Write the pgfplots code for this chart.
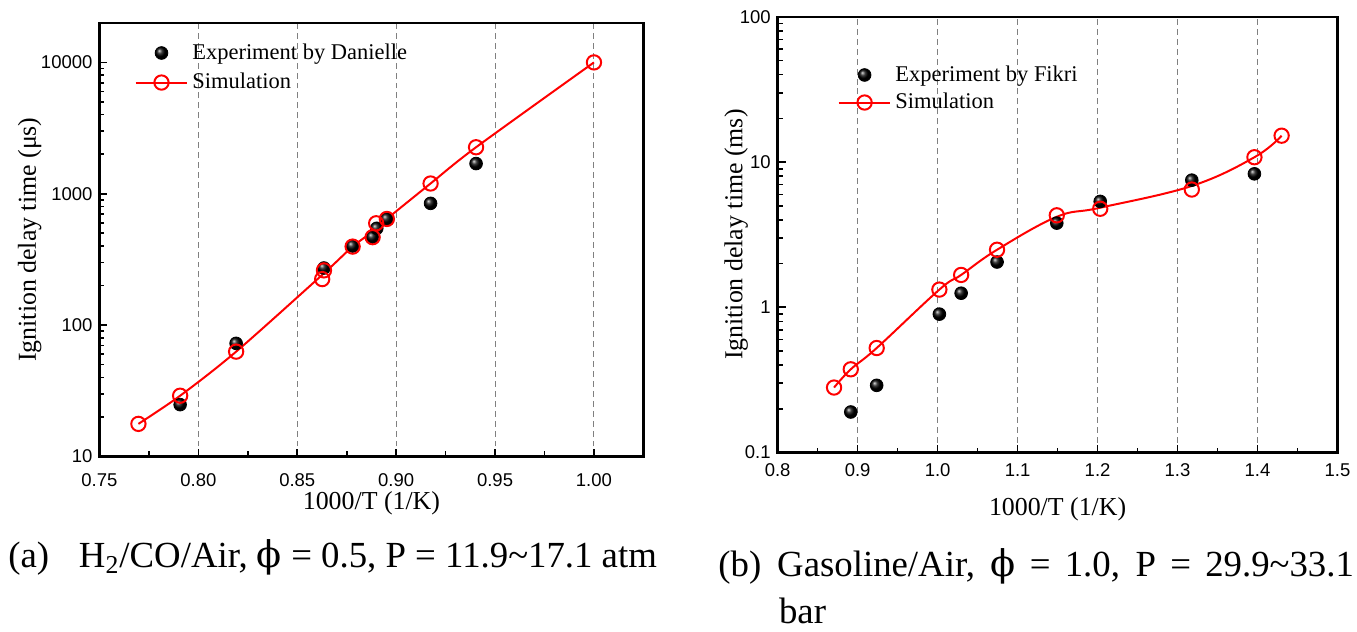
\documentclass[border=0pt]{standalone}
\usepackage{fontspec}
\setmainfont{Liberation Serif}
\newfontfamily\ticksf{Liberation Sans}
\newfontfamily\phifont{DejaVu Serif}
\usepackage{pgfplots}
\usepackage{pgfplotstable}
\pgfplotsset{compat=1.18}

% data
\pgfplotstableread{
x y
0.7908 24.8
0.8191 72.6
0.8635 272
0.8780 400
0.8881 467
0.8902 546
0.8953 643
0.9174 845
0.9404 1698
}\expA
\pgfplotstableread{
x y
0.7697 17.7
0.7908 29.0
0.8191 62.8
0.8626 224
0.8635 261
0.8780 396
0.8881 467
0.8899 596
0.8953 643
0.9174 1197
0.9404 2260
1.0000 10000
}\simA
\pgfplotstableread{
x y
0.7697 17.7
0.7908 29.0
0.8191 62.8
0.8631 245
0.8780 396
0.8900 540
0.8953 643
0.9174 1197
0.9404 2260
1.0000 10000
}\simAline
\pgfplotstableread{
x y
0.8914 0.190
0.9238 0.290
1.0022 0.897
1.0294 1.25
1.0743 2.05
1.1490 3.80
1.2033 5.36
1.3178 7.51
1.3961 8.30
}\expB
\pgfplotstableread{
x y
0.8705 0.280
0.8914 0.374
0.9238 0.524
1.0022 1.324
1.0294 1.67
1.0743 2.49
1.1490 4.30
1.2033 4.77
1.3178 6.47
1.3961 10.8
1.4301 15.2
}\simB
\pgfplotstableread{
x y
0.8705 0.280
0.8914 0.374
0.9238 0.524
1.0022 1.324
1.0294 1.67
1.0743 2.49
1.1490 4.20
1.2033 4.85
1.3178 6.85
1.3961 10.8
1.4301 15.2
}\simBline

\begin{document}
\begin{tikzpicture}
\path (0pt,0pt) rectangle (678.5pt,317.5pt);

\begin{axis}[
  scale only axis, ymode=log,
  at={(50pt,88pt)}, anchor=south west,
  width=273.5pt, height=218pt,
  xmin=0.75, xmax=1.025, ymin=10, ymax=20000,
  tick align=inside, xtick pos=bottom, ytick pos=left,
  axis line style={line width=1.2pt},
  major tick length=4pt, minor tick length=2.5pt,
  major tick style={black, line width=0.8pt},
  minor tick style={black, line width=0.8pt},
  xmajorgrids, grid style={densely dashed, gray, line width=0.5pt},
  minor x tick num=1,
  xtick={0.75,0.80,0.85,0.90,0.95,1.00},
  xticklabels={0.75,0.80,0.85,0.90,0.95,1.00},
  ytick={10,100,1000,10000},
  yticklabels={10,100,1000,10000},
  minor ytick={20,30,40,50,60,70,80,90,200,300,400,500,600,700,800,900,2000,3000,4000,5000,6000,7000,8000,9000},
  tick label style={font=\ticksf\fontsize{9.3}{10}\selectfont},
  xticklabel style={yshift=-5pt},
  label style={font=\fontsize{13}{15}\selectfont},
  xlabel={1000/T (1/K)},
  ylabel={Ignition delay time (μs)},
  xlabel style={at={(axis description cs:0.5,0)}, anchor=center, yshift=-23.5pt},
  ylabel style={at={(axis description cs:-0.128,0.5)}, anchor=center},
  legend cell align=left,
  legend style={draw=none, fill=none, inner sep=0pt,
    font=\fontsize{11.3}{13}\selectfont, row sep=1.5pt,
    at={(axis description cs:0.064,0.962)}, anchor=north west},
]
\addplot[only marks, mark=ball, mark size=3.2pt, mark options={ball color=black},
  legend image code/.code={\path[draw=none, fill=none] (0pt,0pt) -- (26pt,0pt);
    \shade[ball color=black] (13pt,0pt) circle (3.2pt);}] table {\expA};
\addlegendentry{Experiment by Danielle}
\addplot[red, line width=1pt, smooth, tension=0.5, no marks, forget plot] table {\simAline};
\addplot[only marks, mark=o, mark size=3.6pt, mark options={red, line width=1pt},
  legend image code/.code={\draw[red, line width=1pt] (0pt,0pt) -- (26pt,0pt);
    \draw[red, line width=1pt] (13pt,0pt) circle (3.6pt);}] table {\simA};
\addlegendentry{Simulation}
\end{axis}

\begin{axis}[
  scale only axis, ymode=log,
  at={(391pt,90pt)}, anchor=south west,
  width=281.5pt, height=219pt,
  xmin=0.8, xmax=1.5, ymin=0.1, ymax=100,
  tick align=inside, xtick pos=bottom, ytick pos=left,
  axis line style={line width=1.2pt},
  major tick length=4pt, minor tick length=2.5pt,
  major tick style={black, line width=0.8pt},
  minor tick style={black, line width=0.8pt},
  xmajorgrids, grid style={densely dashed, gray, line width=0.5pt},
  minor x tick num=1,
  xtick={0.8,0.9,1.0,1.1,1.2,1.3,1.4,1.5},
  xticklabels={0.8,0.9,1.0,1.1,1.2,1.3,1.4,1.5},
  ytick={0.1,1,10,100},
  yticklabels={0.1,1,10,100},
  minor ytick={0.2,0.3,0.4,0.5,0.6,0.7,0.8,0.9,2,3,4,5,6,7,8,9,20,30,40,50,60,70,80,90},
  tick label style={font=\ticksf\fontsize{9.3}{10}\selectfont},
  xticklabel style={yshift=-2pt},
  label style={font=\fontsize{13}{15}\selectfont},
  xlabel={1000/T (1/K)},
  ylabel={Ignition delay time (ms)},
  xlabel style={at={(axis description cs:0.5,0)}, anchor=center, yshift=-28.5pt},
  ylabel style={at={(axis description cs:-0.074,0.5)}, anchor=center},
  legend cell align=left,
  legend style={draw=none, fill=none, inner sep=0pt,
    font=\fontsize{11.3}{13}\selectfont, row sep=0.5pt,
    at={(axis description cs:0.1066,0.898)}, anchor=north west},
]
\addplot[only marks, mark=ball, mark size=3.2pt, mark options={ball color=black},
  legend image code/.code={\path[draw=none, fill=none] (0pt,0pt) -- (26pt,0pt);
    \shade[ball color=black] (13pt,0pt) circle (3.2pt);}] table {\expB};
\addlegendentry{Experiment by Fikri}
\addplot[red, line width=1pt, smooth, tension=0.65, no marks, forget plot] table {\simBline};
\addplot[only marks, mark=o, mark size=3.6pt, mark options={red, line width=1pt},
  legend image code/.code={\draw[red, line width=1pt] (0pt,0pt) -- (26pt,0pt);
    \draw[red, line width=1pt] (13pt,0pt) circle (3.6pt);}] table {\simB};
\addlegendentry{Simulation}
\end{axis}

\node[anchor=base west, font=\fontsize{18.5}{22}\selectfont, inner sep=0pt] at (4pt,32pt)
  {(a)\hspace{15pt}H\textsubscript{2}/CO/Air, {\phifont ϕ} = 0.5, P = 11.9\textasciitilde17.1 atm};
\node[anchor=base west, font=\fontsize{18.5}{22}\selectfont, inner sep=0pt] at (361pt,27.4pt)
  {(b)\hspace{8pt}\makebox[290pt][s]{Gasoline/Air, {\phifont ϕ} = 1.0, P = 29.9\textasciitilde33.1}};
\node[anchor=base west, font=\fontsize{18.5}{22}\selectfont, inner sep=0pt] at (391.5pt,4pt)
  {bar};
\end{tikzpicture}
\end{document}
